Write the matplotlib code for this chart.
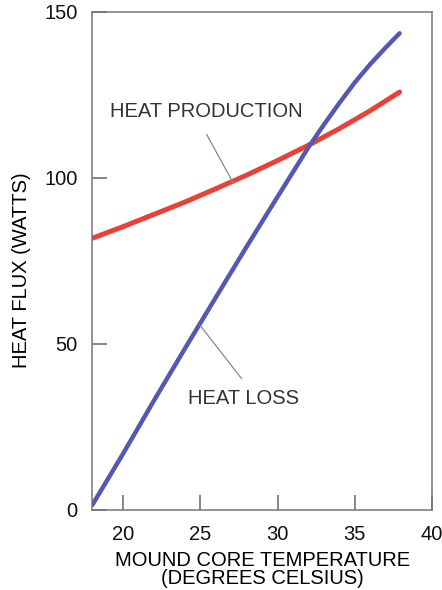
import numpy as np
import matplotlib
matplotlib.use('Agg')
import matplotlib.pyplot as plt

plt.rcParams['font.family'] = ['Liberation Sans', 'DejaVu Sans']

# mound core temperature (deg C) and heat flux (W)
temp_prod = [18, 20, 22, 24, 26, 28, 30, 32, 34, 36, 37.9]
heat_prod = [81.8, 85.3, 89.0, 92.7, 96.7, 100.8, 105.2, 109.8, 114.8, 120.2, 125.8]

temp_loss = [18, 20, 22, 24, 26, 28, 30, 32, 33, 34, 35, 36, 37, 37.9]
heat_loss = [1.5, 17.0, 33.0, 48.6, 64.0, 79.3, 94.3, 109.2, 116.0, 122.5,
             128.7, 134.2, 139.2, 143.5]

# callout labels: text centre, leader start -> end (data units)
label_prod = 'HEAT PRODUCTION'
label_prod_at = (25.4, 119.9)
leader_prod = ([25.41, 27.12], [113.0, 98.5])

label_loss = 'HEAT LOSS'
label_loss_at = (27.8, 33.6)
leader_loss = ([24.96, 27.66], [55.7, 39.6])

x_ticks = [20, 25, 30, 35, 40]
y_ticks = [0, 50, 100, 150]

fig = plt.figure(figsize=(4.42, 5.90), dpi=100)
ax = fig.add_axes([0.2088, 0.1356, 0.9774 - 0.2088, 0.9802 - 0.1356])

ax.plot(temp_prod, heat_prod, color='#e8413a', lw=3.6, solid_capstyle='round')
ax.plot(temp_loss, heat_loss, color='#5558b0', lw=3.2, solid_capstyle='round')

ax.plot(*leader_prod, color='#888888', lw=0.9)
ax.plot(*leader_loss, color='#888888', lw=0.9)
ax.text(*label_prod_at, label_prod, fontsize=14.5, color='#333333',
        ha='center', va='center')
ax.text(*label_loss_at, label_loss, fontsize=14.5, color='#333333',
        ha='center', va='center')

ax.set_xlim(18, 40)
ax.set_ylim(0, 150)
ax.set_xticks(x_ticks)
ax.set_yticks(y_ticks)
ax.tick_params(direction='in', length=11, width=1.1, color='#666666',
               labelsize=14.5, pad=10.5, labelcolor='#111111')

for s in ax.spines.values():
    s.set_color('#777777')
    s.set_linewidth(1.1)

ax.set_xlabel('MOUND CORE TEMPERATURE\n(DEGREES CELSIUS)', fontsize=14.5,
              linespacing=0.95, labelpad=5.5)
ax.set_ylabel('HEAT FLUX (WATTS)', fontsize=14.5)
ax.yaxis.set_label_coords(-0.18, 0.482)

fig.savefig('out.png', dpi=100)
